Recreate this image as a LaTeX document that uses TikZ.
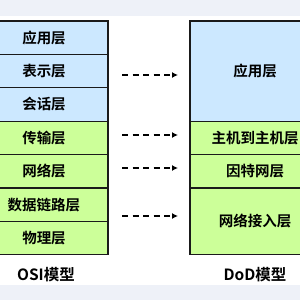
\documentclass[tikz,border=0pt]{standalone}
\usepackage{fontspec}
\setmainfont{Noto Sans CJK SC Bold}
\usetikzlibrary{arrows.meta}
\definecolor{bandc}{HTML}{EEF1F8}
\definecolor{bluec}{HTML}{CCE8FF}
\definecolor{greenc}{HTML}{CCFF99}
\definecolor{edgec}{HTML}{1A1A1A}
\tikzset{
  layer/.style={draw=edgec, line width=1.3pt, inner sep=0pt, font=\fontsize{14.5}{15}\selectfont, text=black},
  upper/.style={layer, fill=bluec},
  lower/.style={layer, fill=greenc},
  leftcol/.style={minimum width=128pt},
  rightcol/.style={minimum width=130pt},
  maplink/.style={draw=black, line width=1.6pt, dash pattern=on 6pt off 4.5pt, -{Latex[length=6pt,width=6pt]}},
  caption/.style={font=\fontsize{15.5}{16}\selectfont, text=black}
}
\begin{document}
\begin{tikzpicture}[x=1pt,y=-1pt]
\useasboundingbox (0,0) rectangle (300,300);
\clip (0,0) rectangle (300,300);
\fill[white] (0,0) rectangle (300,300);
\fill[bandc] (0,0) rectangle (300,16);
\fill[bandc] (0,285) rectangle (300,300);
% OSI
\node[upper, leftcol, minimum height=33.4pt] (o1) at (44,37.7) {应用层};
\node[upper, leftcol, minimum height=33.4pt] (o2) at (44,71.1) {表示层};
\node[upper, leftcol, minimum height=33.4pt] (o3) at (44,104.5) {会话层};
\node[lower, leftcol, minimum height=33.4pt] (o4) at (44,137.9) {传输层};
\node[lower, leftcol, minimum height=33.4pt] (o5) at (44,171.3) {网络层};
\node[lower, leftcol, minimum height=33.4pt] (o6) at (44,204.7) {数据链路层};
\node[lower, leftcol, minimum height=33.4pt] (o7) at (44,238.1) {物理层};
% DoD
\node[upper, rightcol, minimum height=100.2pt] (d1) at (255,71.1) {应用层};
\node[lower, rightcol, minimum height=33.4pt] (d2) at (255,137.9) {主机到主机层};
\node[lower, rightcol, minimum height=33.4pt] (d3) at (255,171.3) {因特网层};
\node[lower, rightcol, minimum height=66.8pt] (d4) at (255,221.4) {网络接入层};
% arrows
\coordinate (s1) at (122,75);  \coordinate (t1) at (178,75);
\coordinate (s2) at (122,135); \coordinate (t2) at (178,135);
\coordinate (s3) at (122,168); \coordinate (t3) at (178,168);
\coordinate (s4) at (122,216); \coordinate (t4) at (178,216);
\draw[maplink] (s1) -- (t1);
\draw[maplink] (s2) -- (t2);
\draw[maplink] (s3) -- (t3);
\draw[maplink] (s4) -- (t4);
% captions
\node[caption] (osi) at (46,275) {OSI模型};
\node[caption] (dod) at (255,275) {DoD模型};
\end{tikzpicture}
\end{document}
